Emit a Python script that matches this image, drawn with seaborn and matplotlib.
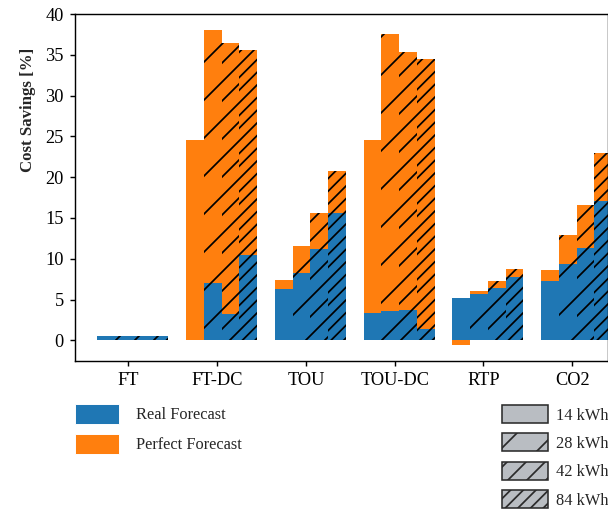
import numpy as np
import pandas as pd
import matplotlib
matplotlib.use('Agg')
import matplotlib.pyplot as plt
from matplotlib.patches import Patch
import seaborn as sns

# data
schemes = ['FT', 'FT-DC', 'TOU', 'TOU-DC', 'RTP', 'CO2']
sizes = ['14 kWh', '28 kWh', '42 kWh', '84 kWh']

real_ft = [0.5, 0.5, 0.5, 0.5]
real_ftdc = [0.0, 7.0, 3.2, 10.5]
real_tou = [6.3, 8.2, 11.2, 15.6]
real_toudc = [3.3, 3.6, 3.7, 1.4]
real_rtp = [5.2, 5.7, 6.4, 7.7]
real_co2 = [7.3, 9.3, 11.3, 17.1]

perf_ft = [0.5, 0.5, 0.5, 0.5]
perf_ftdc = [24.6, 38.1, 36.5, 35.6]
perf_tou = [7.4, 11.5, 15.6, 20.7]
perf_toudc = [24.6, 37.5, 35.3, 34.5]
perf_rtp = [-0.6, 6.0, 7.3, 8.8]
perf_co2 = [8.6, 12.9, 16.6, 23.0]

hatches = ['', '//', '////', '//////']
c_real = '#1f77b4'
c_perf = '#ff7f0e'

def long_df(rows):
    recs = []
    for s, vals in zip(schemes, rows):
        for sz, v in zip(sizes, vals):
            recs.append({'scheme': s, 'size': sz, 'value': v})
    return pd.DataFrame(recs)

df_real = long_df([real_ft, real_ftdc, real_tou, real_toudc, real_rtp, real_co2])
df_perf = long_df([perf_ft, perf_ftdc, perf_tou, perf_toudc, perf_rtp, perf_co2])

#%% style
sns.set_style('ticks')
plt.rcParams['font.family'] = ['Liberation Serif', 'DejaVu Serif']
plt.rcParams['patch.force_edgecolor'] = False
plt.rcParams['hatch.color'] = 'black'
plt.rcParams['hatch.linewidth'] = 0.55
plt.rcParams['axes.linewidth'] = 0.45
plt.rcParams['axes.edgecolor'] = 'black'

dpi = 228
fig = plt.figure(figsize=(608 / dpi, 513 / dpi), dpi=dpi)
ax = fig.add_axes([0.1234, 0.2969, 0.8761, 0.6758])

# orange (perfect) first, blue (real) drawn on top
for d, col in [(df_perf, c_perf), (df_real, c_real)]:
    sns.barplot(data=d, x='scheme', y='value', hue='size', order=schemes,
                hue_order=sizes, palette={s: col for s in sizes},
                saturation=1, errorbar=None, width=0.8, dodge=True,
                legend=False, edgecolor='black', linewidth=0, ax=ax)

for i, cont in enumerate(ax.containers):
    for p in cont:
        p.set_hatch(hatches[i % 4])

ax.set_xticks(np.arange(len(schemes)) - 0.05, labels=schemes)
ax.set_xlim(-0.65, 5.35)
ax.set_ylim(-2.5, 40)
ax.set_yticks(range(0, 41, 5))
ax.set_xlabel('')
ax.set_ylabel('Cost Savings [%]', fontsize=5.3, fontweight='bold')
ax.yaxis.set_label_coords(-0.073, 0.723)
ax.tick_params(axis='both', labelsize=5.8, length=1.5, width=0.45, pad=2,
               color='black', labelcolor='black')
for sp in ax.spines.values():
    sp.set_visible(True)
    sp.set_color('black')

#%% legends
h1 = [Patch(facecolor=c_real, edgecolor='white', linewidth=0.3),
      Patch(facecolor=c_perf, edgecolor='white', linewidth=0.3)]
fig.legend(h1, ['Real Forecast', 'Perfect Forecast'], loc='upper left',
           bbox_to_anchor=(0.1234, 0.2125), frameon=False, fontsize=5.2,
           handlelength=2.7, handleheight=1.45, labelspacing=0.65,
           handletextpad=1.0, borderpad=0, borderaxespad=0)

h2 = [Patch(facecolor='#b9bdc2', edgecolor='#2b2b2b', linewidth=0.5, hatch=h)
      for h in hatches]
fig.legend(h2, sizes, loc='upper right', bbox_to_anchor=(1.0, 0.2105),
           frameon=False, fontsize=5.2, handlelength=2.8, handleheight=1.3,
           labelspacing=0.6, handletextpad=0.45, borderpad=0, borderaxespad=0)

fig.savefig('out.png', dpi=dpi)
